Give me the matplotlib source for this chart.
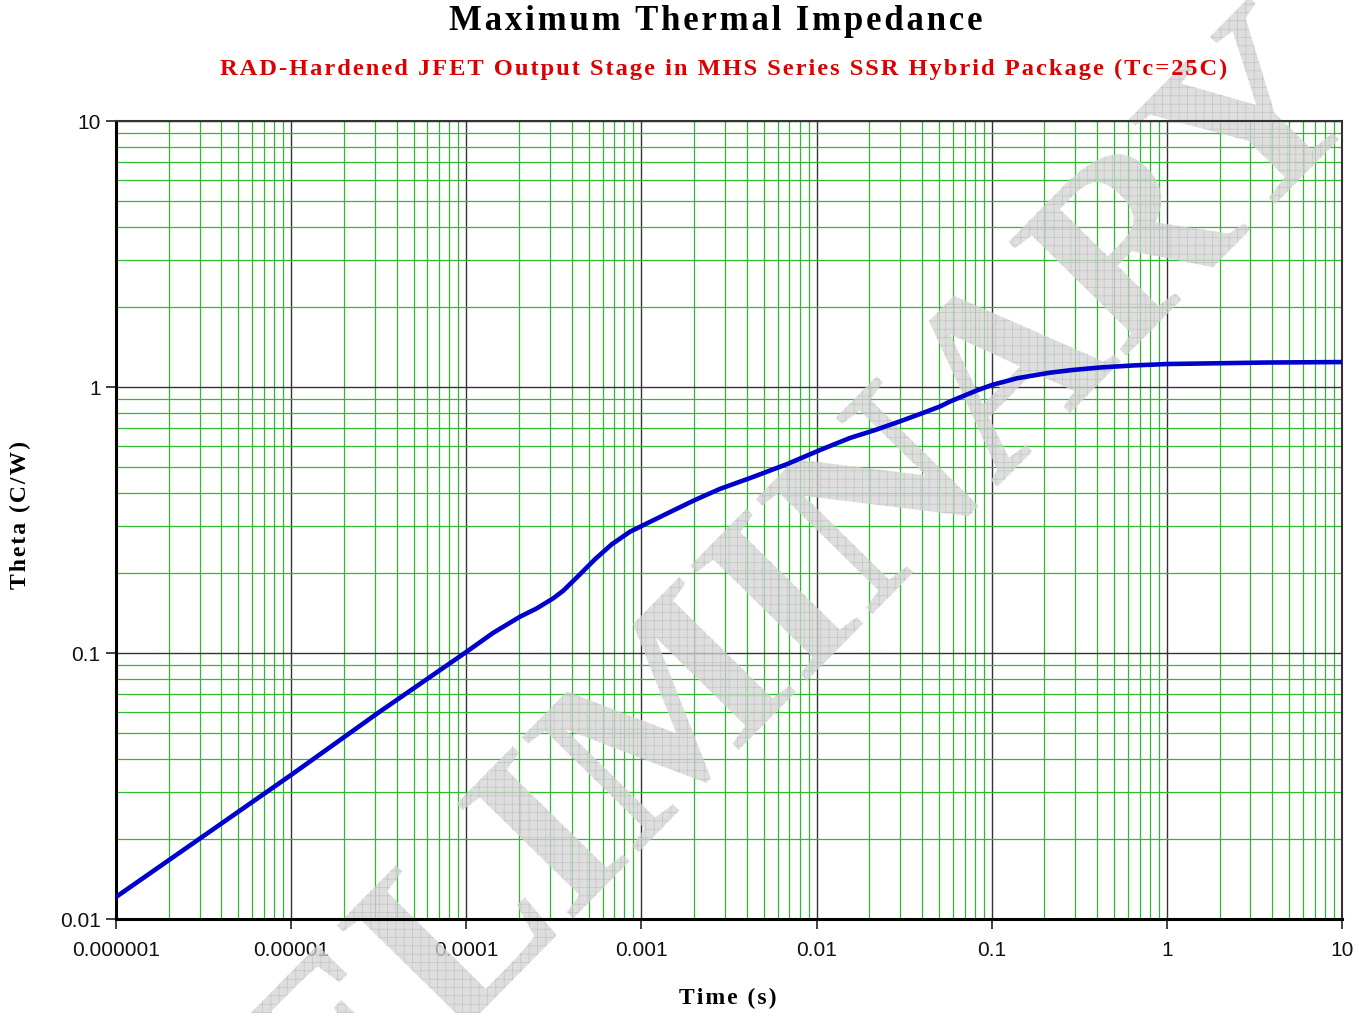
import matplotlib
matplotlib.use("Agg")
from matplotlib import pyplot as plt
from matplotlib.textpath import TextPath
from matplotlib.patches import PathPatch
from matplotlib.font_manager import FontProperties
from matplotlib.ticker import LogLocator, FixedLocator, FixedFormatter, NullFormatter
from matplotlib.transforms import Affine2D

# thermal impedance curve
time_s = [1e-6, 1e-5, 3.13e-5, 1e-4, 1.42e-4, 2.03e-4, 2.53e-4, 3.14e-4, 3.58e-4,
          4.36e-4, 5.43e-4, 6.77e-4, 8.61e-4, 1e-3, 1.46e-3, 2.02e-3, 2.81e-3,
          4.34e-3, 6.78e-3, 1.05e-2, 1.55e-2, 2.16e-2, 3.0e-2, 4.05e-2, 5.07e-2,
          5.78e-2, 6.88e-2, 8.21e-2, 0.1, 0.139, 0.215, 0.291, 0.415, 0.641,
          1.0, 3.73, 10.0]
theta = [0.0121, 0.0348, 0.0595, 0.1009, 0.1189, 0.137, 0.1472, 0.1606, 0.1715,
         0.1948, 0.2251, 0.2562, 0.2858, 0.300, 0.339, 0.376, 0.414,
         0.459, 0.513, 0.580, 0.643, 0.689, 0.743, 0.799, 0.845,
         0.882, 0.925, 0.970, 1.017, 1.078, 1.132, 1.159, 1.184, 1.205,
         1.220, 1.236, 1.241]

x_ticks = [1e-6, 1e-5, 1e-4, 1e-3, 1e-2, 1e-1, 1, 10]
x_labels = ["0.000001", "0.00001", "0.0001", "0.001", "0.01", "0.1", "1", "10"]
y_ticks = [0.01, 0.1, 1, 10]
y_labels = ["0.01", "0.1", "1", "10"]


def spaced(s, gap="\u200a"):
    # poor man's letter spacing
    return gap.join(s)


serif = ["Liberation Serif", "DejaVu Serif"]
sans = ["Liberation Sans", "DejaVu Sans"]
plt.rcParams["hatch.linewidth"] = 0.45

fig = plt.figure(figsize=(13.71, 10.13), dpi=100)
ax = fig.add_axes([116 / 1371, 1 - 919 / 1013, (1342 - 116) / 1371, (919 - 121) / 1013])

ax.set_xscale("log")
ax.set_yscale("log")
ax.set_xlim(1e-6, 10)
ax.set_ylim(0.01, 10)

ax.xaxis.set_major_locator(FixedLocator(x_ticks))
ax.xaxis.set_major_formatter(FixedFormatter(x_labels))
ax.yaxis.set_major_locator(FixedLocator(y_ticks))
ax.yaxis.set_major_formatter(FixedFormatter(y_labels))
ax.xaxis.set_minor_locator(LogLocator(base=10, subs=range(2, 10), numticks=50))
ax.yaxis.set_minor_locator(LogLocator(base=10, subs=range(2, 10), numticks=50))
ax.xaxis.set_minor_formatter(NullFormatter())
ax.yaxis.set_minor_formatter(NullFormatter())

ax.set_axisbelow(True)
ax.grid(which="minor", color="#30b830", lw=0.9)
ax.grid(which="major", color="#333333", lw=1.0)

ax.tick_params(which="major", direction="out", length=7, width=1.2, color="#222222",
               labelsize=15, labelcolor="#111111")
ax.tick_params(axis="x", which="major", pad=9)
ax.tick_params(axis="y", which="major", pad=4)
ax.tick_params(which="minor", length=0)
for lab in ax.get_xticklabels() + ax.get_yticklabels():
    lab.set_family(sans)

for side in ["left", "bottom"]:
    ax.spines[side].set_linewidth(2.2)
    ax.spines[side].set_color("black")
for side in ["top", "right"]:
    ax.spines[side].set_linewidth(1.5)
    ax.spines[side].set_color("#333333")

# the curve
ax.plot(time_s, theta, color="#0000cc", lw=3.3, zorder=3, solid_joinstyle="round")

# PRELIMINARY watermark
wm = TextPath((0, 0), "PRELIMINARY", size=250,
              prop=FontProperties(family="Liberation Serif", weight="bold"))
wm_tr = Affine2D().rotate_deg(45.5).translate(100, 1013 - 1400).scale(1 / 100.0) + fig.dpi_scale_trans
patch = PathPatch(wm, transform=wm_tr, facecolor="#d4d4d4", edgecolor="#b8b8b8",
                  hatch="++", lw=0, alpha=0.75, zorder=2, clip_on=False)
ax.add_artist(patch)

# titles and labels
fig.text(0.522, 1 - 22 / 1013, spaced("Maximum Thermal Impedance"), ha="center", va="center",
         fontsize=25, fontweight="bold", family=serif, color="black")
fig.text(0.528, 1 - 69 / 1013,
         spaced("RAD-Hardened JFET Output Stage in MHS Series SSR Hybrid Package (Tc=25C)"),
         ha="center", va="center", fontsize=17.6, fontweight="bold", family=serif, color="#dd0000")
fig.text(0.531, 1 - 998 / 1013, spaced("Time (s)"), ha="center", va="center",
         fontsize=17, fontweight="bold", family=serif, color="black")
fig.text(20 / 1371, 1 - 515 / 1013, spaced("Theta (C/W)"), ha="center", va="center", rotation=90,
         fontsize=17, fontweight="bold", family=serif, color="black")

fig.savefig("out.png", dpi=100)
